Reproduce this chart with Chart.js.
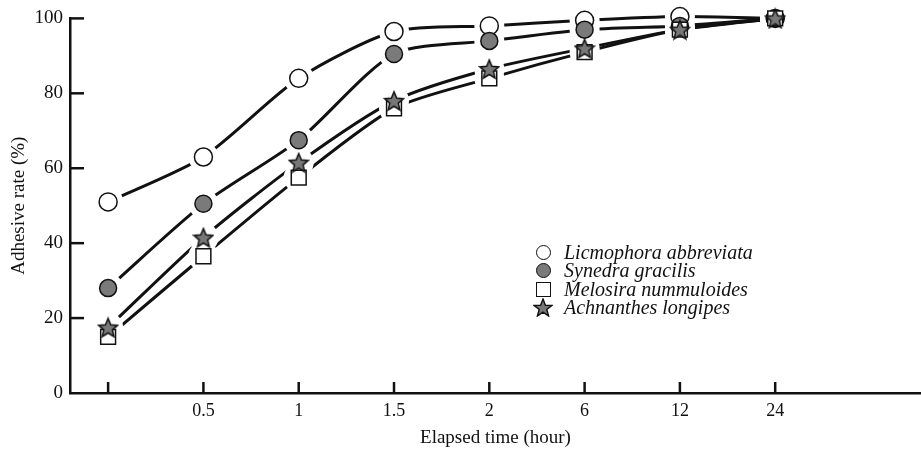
<!DOCTYPE html>
<html>
<head>
<meta charset="utf-8">
<script src="https://cdn.jsdelivr.net/npm/chart.js@4.4.1/dist/chart.umd.min.js"></script>
<style>
  html, body { margin: 0; padding: 0; background: #fff; overflow: hidden; }
  #wrap { position: relative; width: 921px; height: 452px; }
  #chart { display: block; }
  #legend {
    position: absolute; left: 533px; top: 243px;
    font-family: "Liberation Serif", "DejaVu Serif", serif;
    font-style: italic; font-size: 20px; color: #111;
  }
  #legend .row { display: flex; align-items: center; height: 18.5px; }
  #legend .mk { width: 20px; height: 18px; margin-right: 11px; display: flex; align-items: center; justify-content: center; }
  .c-open { width: 15px; height: 15px; border: 1.5px solid #111; border-radius: 50%; background: #fff; box-sizing: border-box; }
  .c-fill { width: 15px; height: 15px; border: 1.5px solid #111; border-radius: 50%; background: #7a7a7a; box-sizing: border-box; }
  .sq { width: 15px; height: 15px; border: 1.5px solid #111; background: #fff; box-sizing: border-box; }
</style>
</head>
<body>
<div id="wrap">
  <canvas id="chart" width="921" height="452"></canvas>
  <div id="legend"></div>
</div>
<script>
// --- Data ---
const categories = ['', '0.5', '1', '1.5', '2', '6', '12', '24'];
const licmophora = [51, 63, 84, 96.5, 98, 99.5, 100.5, 100];
const synedra = [28, 50.5, 67.5, 90.5, 94, 97, 98, 100];
const melosira = [15, 36.5, 57.5, 76, 84, 91, 97, 100];
const achnanthes = [17.5, 41.5, 61.5, 78, 86.5, 92, 97, 100];
const yTicks = [0, 20, 40, 60, 80, 100];

const seriesNames = ['Licmophora abbreviata', 'Synedra gracilis', 'Melosira nummuloides', 'Achnanthes longipes'];

const ink = '#111';
const serif = '"Liberation Serif", "DejaVu Serif", serif';

// filled grey star used as point style
function makeStar(size) {
  const c = document.createElement('canvas');
  c.width = size; c.height = size;
  const g = c.getContext('2d');
  const cx = size / 2, cy = size / 2 + 1, R = size / 2 - 1, r = R * 0.45;
  g.beginPath();
  for (let i = 0; i < 10; i++) {
    const rad = i % 2 === 0 ? R : r;
    const a = -Math.PI / 2 + i * Math.PI / 5;
    g.lineTo(cx + rad * Math.cos(a), cy + rad * Math.sin(a));
  }
  g.closePath();
  g.fillStyle = '#777';
  g.fill();
  g.lineWidth = 1.5;
  g.strokeStyle = ink;
  g.stroke();
  return c;
}
const starImg = makeStar(22);

function pts(arr) {
  return arr.map((v, i) => ({ x: i, y: v }));
}

function series(label, values, style) {
  return Object.assign({
    label: label,
    data: pts(values),
    borderColor: ink,
    borderWidth: 3,
    tension: 0.25,
    pointBorderColor: ink,
    pointBorderWidth: 1.5,
    clip: false
  }, style);
}

// white gap round every marker, then markers drawn again on top (dataset order, star last)
const markerGaps = {
  id: 'markerGaps',
  afterDatasetsDraw(chart) {
    const ctx = chart.ctx;
    const metas = chart.data.datasets.map((_, i) => chart.getDatasetMeta(i));
    ctx.save();
    ctx.fillStyle = '#fff';
    metas.forEach(meta => {
      meta.data.forEach(pt => {
        ctx.beginPath();
        ctx.arc(pt.x, pt.y, 15, 0, Math.PI * 2);
        ctx.fill();
      });
    });
    ctx.restore();
    metas.forEach(meta => {
      meta.data.forEach(pt => pt.draw(ctx));
    });
  }
};

// inward tick marks on both axes
const innerTicks = {
  id: 'innerTicks',
  afterDraw(chart) {
    const { ctx, chartArea, scales } = chart;
    ctx.save();
    ctx.strokeStyle = ink;
    ctx.lineWidth = 2.5;
    categories.forEach((_, i) => {
      const x = scales.x.getPixelForValue(i);
      ctx.beginPath();
      ctx.moveTo(x, chartArea.bottom);
      ctx.lineTo(x, chartArea.bottom - 11);
      ctx.stroke();
    });
    yTicks.slice(1).forEach(v => {
      const y = scales.y.getPixelForValue(v);
      ctx.beginPath();
      ctx.moveTo(chartArea.left, y);
      ctx.lineTo(chartArea.left + 14, y);
      ctx.stroke();
    });
    ctx.restore();
  }
};

new Chart(document.getElementById('chart'), {
  type: 'line',
  data: {
    datasets: [
      series(seriesNames[0], licmophora, { pointStyle: 'circle', pointRadius: 9, pointBackgroundColor: '#fff' }),
      series(seriesNames[1], synedra, { pointStyle: 'circle', pointRadius: 8.5, pointBackgroundColor: '#7a7a7a' }),
      series(seriesNames[2], melosira, { pointStyle: 'rect', pointRadius: 10.5, pointBackgroundColor: '#fff' }),
      series(seriesNames[3], achnanthes, { pointStyle: starImg })
    ]
  },
  options: {
    responsive: false,
    animation: false,
    layout: { autoPadding: false, padding: { top: 16, right: 0, left: 0, bottom: 0 } },
    plugins: {
      legend: { display: false },
      tooltip: { enabled: false }
    },
    scales: {
      x: {
        type: 'linear',
        min: -0.4,
        max: 8.53,
        grid: { display: false, drawTicks: false },
        border: { display: true, color: ink, width: 2.5 },
        afterBuildTicks: (scale) => {
          scale.ticks = categories.map((_, i) => ({ value: i }));
        },
        afterFit: (scale) => {
          scale.height = 59;
          scale.paddingLeft = 0;
          scale.paddingRight = 0;
        },
        ticks: {
          autoSkip: false,
          maxRotation: 0,
          padding: 7,
          color: ink,
          font: { family: serif, size: 18 },
          callback: (v) => categories[v] !== undefined ? categories[v] : ''
        },
        title: {
          display: true,
          text: 'Elapsed time (hour)',
          color: ink,
          font: { family: serif, size: 19 },
          padding: { top: 0, bottom: 3 }
        }
      },
      y: {
        min: 0,
        max: 100,
        grid: { display: false, drawTicks: false },
        border: { display: true, color: ink, width: 2.5 },
        afterBuildTicks: (scale) => {
          scale.ticks = yTicks.map(v => ({ value: v }));
        },
        afterFit: (scale) => { scale.width = 70; },
        ticks: {
          padding: 7,
          color: ink,
          font: { family: serif, size: 19 }
        },
        title: {
          display: true,
          text: 'Adhesive rate (%)',
          color: ink,
          font: { family: serif, size: 19 },
          padding: { top: 8, bottom: 0 }
        }
      }
    }
  },
  plugins: [markerGaps, innerTicks]
});

// --- Legend (HTML) ---
const legendMarks = [
  '<div class="c-open"></div>',
  '<div class="c-fill"></div>',
  '<div class="sq"></div>',
  '<svg width="20" height="19" viewBox="0 0 20 19"><polygon points="10,1 12.4,7.2 19,7.4 13.8,11.4 15.6,18 10,14.2 4.4,18 6.2,11.4 1,7.4 7.6,7.2" fill="#777" stroke="#111" stroke-width="1.4"/></svg>'
];
const legend = document.getElementById('legend');
seriesNames.forEach((name, i) => {
  const row = document.createElement('div');
  row.className = 'row';
  row.innerHTML = '<span class="mk">' + legendMarks[i] + '</span><span></span>';
  row.lastChild.textContent = name;
  legend.appendChild(row);
});
</script>
</body>
</html>
